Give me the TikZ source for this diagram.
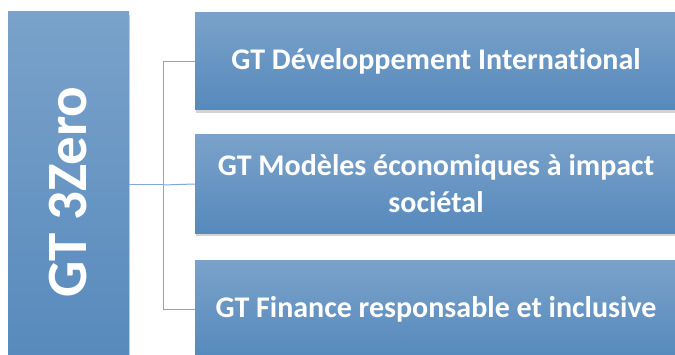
\documentclass[tikz,border=0pt]{standalone}
\usepackage{fontspec}
\setmainfont[RawFeature=-liga]{Carlito}
\usetikzlibrary{positioning,shadows}
\definecolor{boxtop}{RGB}{122,162,202}
\definecolor{boxbot}{RGB}{86,137,188}
\definecolor{linkblue}{RGB}{128,168,218}

\begin{document}
\begin{tikzpicture}[x=1pt,y=1pt,
  gtbox/.style={rectangle, inner sep=0pt, top color=boxtop, bottom color=boxbot,
    text=white, align=center, font=\bfseries\fontsize{30}{37}\selectfont,
    drop shadow={shadow xshift=1pt, shadow yshift=-3pt, opacity=0.35}},
  link/.style={draw=linkblue, line width=1pt}]
\useasboundingbox (0,0) rectangle (675,354);
\clip (0,0) rectangle (675,354);
% left box
\node[gtbox, minimum width=121, minimum height=360] (lead) at (68.5,162) {};
\node[rotate=90, text=white, font=\bfseries\fontsize{57}{60}\selectfont] (leadtxt) at (lead) {GT 3Zero};
% right boxes
\node[gtbox, minimum width=482, minimum height=97] (dev) at (436,292.5) {GT Développement International};
\node[gtbox, minimum width=482, minimum height=98] (eco) at (436,170) {GT Modèles économiques à impact\\sociétal};
\node[gtbox, minimum width=482, minimum height=98] (fin) at (436,45) {GT Finance responsable et inclusive};
% connectors
\coordinate (hub) at (163,169);
\draw[link] (lead.east |- hub) -- (hub);
\draw[link] (hub) -- (eco.west);
\draw[link] (hub) |- (dev.west);
\draw[link] (hub) |- (fin.west);
\end{tikzpicture}
\end{document}
